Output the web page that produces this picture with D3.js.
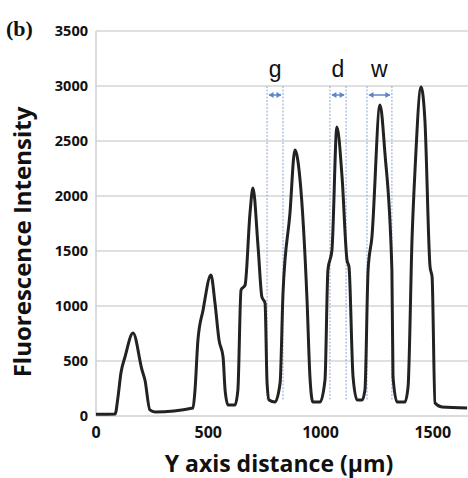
<!DOCTYPE html>
<html>
<head>
<meta charset="utf-8">
<script src="https://cdn.jsdelivr.net/npm/d3@7"></script>
<style>
  body { margin: 0; background: #fff; }
  svg { display: block; }
</style>
</head>
<body>
<svg id="chart" width="468" height="478"></svg>
<script>
// profile: distance (um) and intensity
const distance = [0, 85, 98, 111, 129, 165, 205, 218, 240, 263, 432, 441, 454, 477, 512, 530, 548, 566, 575, 588,
  619, 632, 646, 664, 686, 699, 722, 739, 753, 762, 771, 797, 820, 833, 864, 886, 909, 940, 953, 966,
  998, 1020, 1033, 1051, 1073, 1096, 1118, 1127, 1145, 1163, 1185, 1198, 1212, 1229, 1265, 1287, 1318, 1323, 1341, 1376,
  1390, 1408, 1421, 1448, 1465, 1488, 1497, 1510, 1541, 1653];
const intensity = [15, 18, 173, 390, 536, 755, 418, 327, 55, 36, 73, 236, 690, 964, 1282, 1027, 690, 536, 236, 100,
  100, 236, 1145, 1190, 1845, 2073, 1536, 1082, 1027, 300, 145, 127, 300, 1118, 1845, 2418, 2145, 1055, 355, 127,
  127, 327, 1327, 1509, 2627, 2173, 1418, 1355, 355, 145, 145, 236, 1327, 1627, 2827, 2390, 1327, 355, 127, 127,
  264, 1627, 2236, 2991, 2691, 1355, 1264, 118, 82, 73];

const yTicks = [0, 500, 1000, 1500, 2000, 2500, 3000, 3500];
const xTicks = [0, 500, 1000, 1500];

// g / d / w brackets
const markLabels = ['g', 'd', 'w'];
const markStart = [762, 1042, 1207];
const markEnd = [833, 1114, 1318];

const svg = d3.select('#chart');
const x = d3.scaleLinear().domain([0, 1657]).range([96, 468]);
const y = d3.scaleLinear().domain([0, 3500]).range([416, 31]);

// grid
svg.append('g').selectAll('line')
  .data(yTicks.filter(d => d > 0))
  .enter().append('line')
  .attr('x1', x(0)).attr('x2', 468)
  .attr('y1', d => y(d)).attr('y2', d => y(d))
  .attr('stroke', '#d6d6d6').attr('stroke-width', 1.5);

svg.append('line')
  .attr('x1', x(0)).attr('x2', x(0)).attr('y1', y(3500)).attr('y2', y(0))
  .attr('stroke', '#cfcfcf').attr('stroke-width', 1.5);
svg.append('line')
  .attr('x1', x(0)).attr('x2', 468).attr('y1', y(0)).attr('y2', y(0))
  .attr('stroke', '#cfcfcf').attr('stroke-width', 1.5);

// tick labels
const tickFont = "'Open Sans', sans-serif";
svg.append('g').selectAll('text')
  .data(yTicks)
  .enter().append('text')
  .attr('x', 88).attr('y', d => y(d) + 5)
  .attr('text-anchor', 'end')
  .style('font-family', tickFont).style('font-weight', 'bold').style('font-size', '14.5px')
  .attr('fill', '#111')
  .text(d => d);

svg.append('g').selectAll('text')
  .data(xTicks)
  .enter().append('text')
  .attr('x', d => x(d)).attr('y', 438)
  .attr('text-anchor', 'middle')
  .style('font-family', tickFont).style('font-weight', 'bold').style('font-size', '16px')
  .attr('fill', '#111')
  .text(d => d);

// axis titles
svg.append('text')
  .attr('x', 279).attr('y', 472)
  .attr('text-anchor', 'middle')
  .style('font-family', tickFont).style('font-weight', 'bold').style('font-size', '23px')
  .attr('fill', '#111')
  .text('Y axis distance (\u00b5m)');

svg.append('text')
  .attr('transform', 'translate(31,242) rotate(-90)')
  .attr('text-anchor', 'middle')
  .style('font-family', tickFont).style('font-weight', 'bold').style('font-size', '24px')
  .attr('fill', '#111')
  .text('Fluorescence Intensity');

svg.append('text')
  .attr('x', 6).attr('y', 36)
  .style('font-family', "'Liberation Serif', serif").style('font-weight', 'bold').style('font-size', '22px')
  .attr('fill', '#111')
  .text('(b)');

// bracket lines
const marks = markLabels.map((l, i) => ({ l: l, a: markStart[i], b: markEnd[i] }));
const mg = svg.append('g');
marks.forEach(m => {
  [m.a, m.b].forEach(v => {
    mg.append('line')
      .attr('x1', x(v)).attr('x2', x(v)).attr('y1', y(3000)).attr('y2', y(150))
      .attr('stroke', '#9db6de').attr('stroke-width', 1.2).attr('stroke-dasharray', '2,1.5');
  });
  mg.append('line')
    .attr('x1', x(m.a) + 2).attr('x2', x(m.b) - 2).attr('y1', 95).attr('y2', 95)
    .attr('stroke', '#5b87c9').attr('stroke-width', 1.5);
  [[m.a, 1], [m.b, -1]].forEach(([v, dir]) => {
    const px = x(v) + dir * 1.5;
    mg.append('path')
      .attr('d', `M${px},95 L${px + dir * 5},92 L${px + dir * 5},98 Z`)
      .attr('fill', '#5b87c9');
  });
  mg.append('text')
    .attr('x', (x(m.a) + x(m.b)) / 2).attr('y', 77)
    .attr('text-anchor', 'middle')
    .style('font-family', "'Liberation Sans', Arial, sans-serif").style('font-size', '23px')
    .attr('fill', '#111')
    .text(m.l);
});

// profile
const line = d3.line()
  .x((d, i) => x(distance[i]))
  .y(d => y(d))
  .curve(d3.curveMonotoneX);

svg.append('path')
  .datum(intensity)
  .attr('d', line)
  .attr('fill', 'none')
  .attr('stroke', '#222')
  .attr('stroke-width', 3)
  .attr('stroke-linejoin', 'round');
</script>
</body>
</html>
